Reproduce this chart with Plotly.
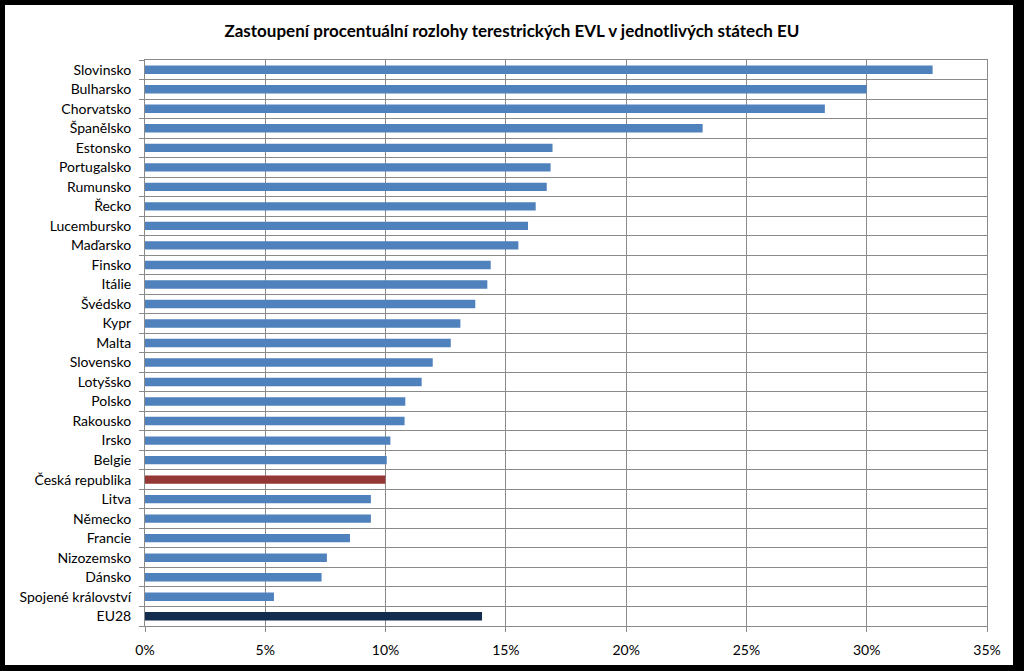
import plotly.graph_objects as go

# Categories from top to bottom as in the chart
countries = ["Slovinsko", "Bulharsko", "Chorvatsko", "Španělsko", "Estonsko",
             "Portugalsko", "Rumunsko", "Řecko", "Lucembursko", "Maďarsko",
             "Finsko", "Itálie", "Švédsko", "Kypr", "Malta", "Slovensko",
             "Lotyšsko", "Polsko", "Rakousko", "Irsko", "Belgie",
             "Česká republika", "Litva", "Německo", "Francie", "Nizozemsko",
             "Dánsko", "Spojené království", "EU28"]

share = [0.3274, 0.3000, 0.2826, 0.2318, 0.1694,
         0.1686, 0.1670, 0.1624, 0.1592, 0.1552,
         0.1437, 0.1423, 0.1373, 0.1311, 0.1271, 0.1196,
         0.1150, 0.1082, 0.1079, 0.1020, 0.1005,
         0.0999, 0.0939, 0.0939, 0.0852, 0.0756,
         0.0734, 0.0536, 0.1401]

x_ticks = [0, 0.05, 0.10, 0.15, 0.20, 0.25, 0.30, 0.35]
x_tick_labels = ["0%", "5%", "10%", "15%", "20%", "25%", "30%", "35%"]

BLUE = "#4F81BD"
RED = "#953735"
NAVY = "#142D4F"
colors = [NAVY if c == "EU28" else RED if c == "Česká republika" else BLUE
          for c in countries]

FONT = "Lato, Calibri, sans-serif"
GRID = "#8A8A8A"

fig = go.Figure(go.Bar(
    x=share,
    y=countries,
    orientation="h",
    marker=dict(color=colors, line=dict(width=0)),
    hoverinfo="skip",
))

W, H = 1024, 671
L, R, T, B = 145, 37, 60, 45


def px_x(p):
    return (p - L) / (W - L - R)


def px_y(p):
    return (H - B - p) / (H - T - B)


# white card inside the black frame
fig.add_shape(type="rect", xref="paper", yref="paper", layer="below",
              x0=px_x(5), x1=px_x(1013), y0=px_y(665), y1=px_y(5),
              fillcolor="white", line=dict(width=0))

fig.update_layout(
    width=W, height=H,
    margin=dict(l=L, r=R, t=T, b=B),
    paper_bgcolor="black",
    plot_bgcolor="white",
    bargap=0.57,
    showlegend=False,
    title=dict(
        text="<b>Zastoupení procentuální rozlohy terestrických EVL v jednotlivých státech EU</b>",
        x=0.5, xref="container", xanchor="center",
        y=1 - 31 / H, yanchor="middle",
        font=dict(family=FONT, size=17, color="black"),
    ),
    xaxis=dict(
        range=[0, 0.35],
        tickvals=x_ticks,
        ticktext=x_tick_labels,
        showgrid=True, gridcolor=GRID, gridwidth=1,
        zeroline=False,
        showline=True, linecolor=GRID, mirror=True,
        ticks="outside", ticklen=5, tickcolor=GRID,
        ticklabelstandoff=6,
        tickfont=dict(family=FONT, size=14, color="black"),
        fixedrange=True,
    ),
    yaxis=dict(
        type="category",
        categoryorder="array",
        categoryarray=countries[::-1],
        autorange=False,
        range=[-0.5, len(countries) - 0.5],
        tickson="boundaries",
        showgrid=True, gridcolor=GRID, gridwidth=1,
        showline=True, linecolor=GRID, mirror=True,
        ticks="outside", ticklen=5, tickcolor=GRID,
        ticklabelstandoff=10,
        tickfont=dict(family=FONT, size=14, color="black"),
        fixedrange=True,
    ),
)

fig.write_html("out.html",
               config={"displayModeBar": False},
               post_script="document.body.style.margin='0';"
                           "document.body.style.overflow='hidden';")
